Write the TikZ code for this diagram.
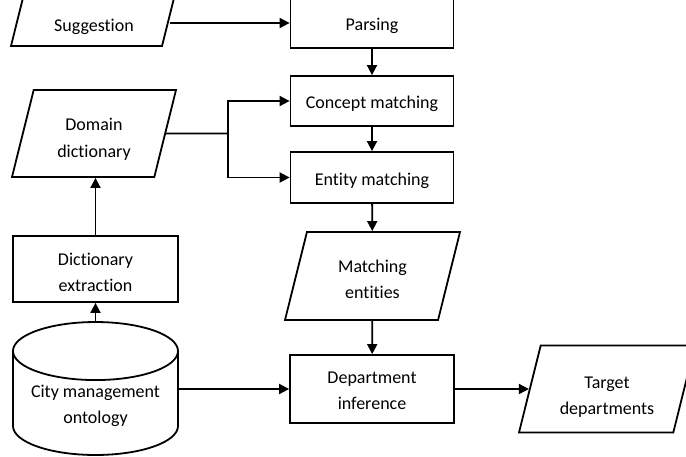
\documentclass[tikz,border=0pt]{standalone}
\usepackage{fontspec}
\setmainfont{Carlito}[Ligatures=NoCommon]
\usepackage{tikz}
\usetikzlibrary{arrows.meta,shapes.geometric}

\begin{document}
\begin{tikzpicture}[x=1pt,y=-1pt,->,>={Triangle[length=10pt,width=10pt]},line width=1.8pt,
        font=\fontsize{18}{26.5}\selectfont,
        proc/.style={rectangle,draw=black,align=center,inner sep=0pt,text height=17pt,text depth=2pt},
        io/.style={trapezium,trapezium left angle=76,trapezium right angle=104,
          trapezium stretches body,draw=black,align=center,inner xsep=0pt},
        store/.style={cylinder,shape border rotate=90,aspect=0.45,draw=black,align=center,inner sep=0pt}]
        \clip (0,0) rectangle (686,456);
        \node[io,minimum width=166pt,text height=40pt,text depth=10pt,inner ysep=5pt] (sugg) at (94,16) {Suggestion};
        \node[proc,minimum width=163pt,minimum height=50pt] (parse) at (372,23) {Parsing};
        \node[proc,minimum width=163pt,minimum height=50pt] (concept) at (372,101) {Concept matching};
        \node[proc,minimum width=163pt,minimum height=51pt] (entity) at (372,177.5) {Entity matching};
        \node[io,minimum width=164pt,text height=49pt,text depth=2pt,inner ysep=18pt] (domain) at (94,133.5) {Domain\\dictionary};
        \node[io,minimum width=175pt,text height=47pt,text depth=2pt,inner ysep=19.5pt] (match) at (372.5,276) {Matching\\entities};
        \node[proc,minimum width=165pt,minimum height=66pt,text height=47pt,text depth=2pt] (dictex) at (95.5,269) {Dictionary\\extraction};
        \node[store,minimum width=165pt,minimum height=127pt,text height=43pt,text depth=2pt,anchor=shape center] (onto) at (95.5,388.5) {City management\\ontology};
        \node[proc,minimum width=164pt,minimum height=68pt,text height=43pt,text depth=2pt] (dept) at (372,389) {Department\\inference};
        \node[io,minimum width=176pt,text height=53pt,text depth=2pt,inner ysep=16pt] (target) at (607,389) {Target\\departments};
        \coordinate (split) at (228,133.5);
        \draw (parse.west -| sugg.east) -- (parse.west);
        \draw (parse) -- (concept);
        \draw (concept) -- (entity);
        \draw (entity) -- (match);
        \draw (match) -- (dept);
        \draw[-] (domain.east) -- (split);
        \draw (split) |- (concept.west);
        \draw (split) |- (entity.west);
        \draw (dictex) -- (dictex |- domain.south);
        \draw (onto.north) -- (dictex.south);
        \draw (dept.west -| onto.east) -- (dept.west);
        \draw (dept.east) -- (target.west);
      \end{tikzpicture}
\end{document}
